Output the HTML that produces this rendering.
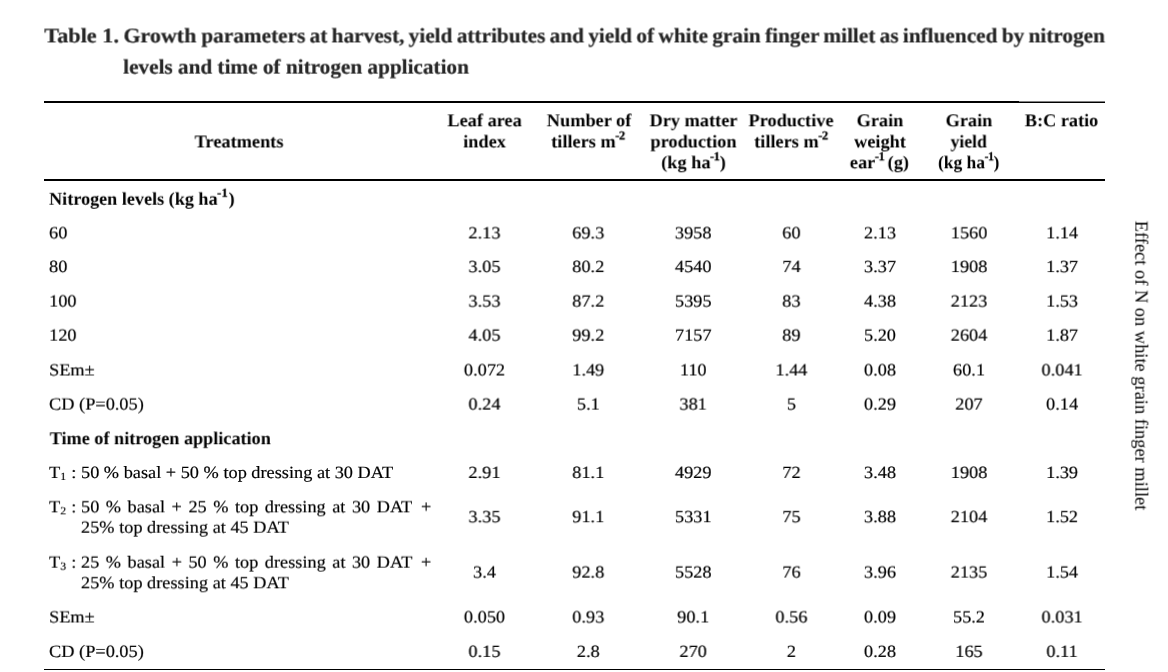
<!DOCTYPE html>
<html lang="en"><head><meta charset="utf-8"><title>Table 1</title>
<style>
html,body{margin:0;padding:0;background:#fff;}
body{width:1168px;height:672px;position:relative;overflow:hidden;font-family:"Liberation Serif","Times New Roman",serif;color:#000;text-rendering:geometricPrecision;}
.t{position:absolute;white-space:nowrap;line-height:1;margin:0;padding:0;font-size:17.2px;transform-origin:0 50%;-webkit-text-stroke:0.18px #000;}
.c{text-align:center;transform-origin:50% 50%;}
.title{font-weight:bold;color:#262626;font-size:20.7px;-webkit-text-stroke:0.2px #262626;}
.h{font-weight:bold;font-size:18.0px;-webkit-text-stroke:0;}
.rule{position:absolute;background:#000;}
sup{font-size:68%;vertical-align:baseline;position:relative;top:-0.69em;line-height:0;margin-left:-0.5px;letter-spacing:-0.4px;-webkit-text-stroke:0.25px currentColor;}
sub{font-size:64%;vertical-align:baseline;position:relative;top:0.2em;line-height:0;margin-right:0.6px;}
.v{transform-origin:0 0;}
h1,section,header,aside,.row,.cell{display:block;position:static;margin:0;padding:0;border:0;font:inherit;height:0;}
</style></head><body>
<h1>
<span class="t title" style="left:44px;top:26px;transform:perspective(1000px) translate3d(0.30px,0.40px,0) scaleX(1.076);">Table 1.</span>
<span class="t title" style="left:123px;top:26px;transform:perspective(1000px) translate3d(0.40px,0.40px,0) scaleX(1.0628);">Growth</span>
<span class="t title" style="left:201px;top:26px;transform:perspective(1000px) translate3d(0.40px,0.40px,0) scaleX(1.0288);word-spacing:-1.0px;">parameters at harvest, yield attributes and yield of white grain finger millet as influenced by nitrogen</span>
<span class="t title" style="left:123px;top:57px;transform:perspective(1000px) translate3d(0.20px,0.60px,0) scaleX(1.026);">levels and time of nitrogen application</span>
</h1>
<section>
<div class="rule" style="left:44px;top:101px;width:975px;height:2px;"></div>
<div class="rule" style="left:1019px;top:102px;width:86px;height:1px;"></div>
<div class="rule" style="left:1019px;top:101px;width:86px;height:1px;opacity:0.5;"></div>
<div class="rule" style="left:44px;top:179px;width:1061px;height:2px;"></div>
<div class="rule" style="left:44px;top:669px;width:1061px;height:1px;"></div>
<header class="row">
<div class="cell">
<div class="t h c" style="left:239px;top:132px;transform:perspective(1000px) translate3d(calc(-50% + 0.00px),0.40px,0) scaleX(1.017);">Treatments</div>
</div>
<div class="cell">
<div class="t h c" style="left:484px;top:111px;transform:perspective(1000px) translate3d(calc(-50% + 0.60px),0.30px,0) scaleX(1.017);">Leaf area</div>
<div class="t h c" style="left:484px;top:132px;transform:perspective(1000px) translate3d(calc(-50% + 0.60px),0.40px,0) scaleX(1.017);">index</div>
</div>
<div class="cell">
<div class="t h c" style="left:589px;top:111px;transform:perspective(1000px) translate3d(calc(-50% + 0.00px),0.30px,0) scaleX(1.017);">Number of</div>
<div class="t h c" style="left:588px;top:132px;transform:perspective(1000px) translate3d(calc(-50% + 0.00px),0.40px,0) scaleX(1.017);">tillers m<sup>-2</sup></div>
</div>
<div class="cell">
<div class="t h c" style="left:693px;top:111px;transform:perspective(1000px) translate3d(calc(-50% + 0.50px),0.30px,0) scaleX(1.017);">Dry matter</div>
<div class="t h c" style="left:693px;top:132px;transform:perspective(1000px) translate3d(calc(-50% + 0.50px),0.40px,0) scaleX(1.017);">production</div>
<div class="t h c" style="left:693px;top:153px;transform:perspective(1000px) translate3d(calc(-50% + 0.50px),0.30px,0) scaleX(1.017);">(kg ha<sup>-1</sup>)</div>
</div>
<div class="cell">
<div class="t h c" style="left:791px;top:111px;transform:perspective(1000px) translate3d(calc(-50% + 0.00px),0.30px,0) scaleX(1.017);">Productive</div>
<div class="t h c" style="left:791px;top:132px;transform:perspective(1000px) translate3d(calc(-50% + 0.00px),0.40px,0) scaleX(1.017);">tillers m<sup>-2</sup></div>
</div>
<div class="cell">
<div class="t h c" style="left:880px;top:111px;transform:perspective(1000px) translate3d(calc(-50% + 0.00px),0.30px,0) scaleX(1.017);">Grain</div>
<div class="t h c" style="left:880px;top:132px;transform:perspective(1000px) translate3d(calc(-50% + 0.00px),0.40px,0) scaleX(1.017);">weight</div>
<div class="t h c" style="left:879px;top:153px;transform:perspective(1000px) translate3d(calc(-50% + 0.40px),0.30px,0) scaleX(1.017);word-spacing:-1.2px;">ear<sup>-1</sup> (g)</div>
</div>
<div class="cell">
<div class="t h c" style="left:969px;top:111px;transform:perspective(1000px) translate3d(calc(-50% + 0.00px),0.30px,0) scaleX(1.017);">Grain</div>
<div class="t h c" style="left:968px;top:132px;transform:perspective(1000px) translate3d(calc(-50% + 0.70px),0.40px,0) scaleX(0.9814);">yield</div>
<div class="t h c" style="left:968px;top:153px;transform:perspective(1000px) translate3d(calc(-50% + 0.70px),0.30px,0) scaleX(0.9672);">(kg ha<sup>-1</sup>)</div>
</div>
<div class="cell">
<div class="t h c" style="left:1061px;top:111px;transform:perspective(1000px) translate3d(calc(-50% + 0.50px),0.30px,0) scaleX(1.0129);">B:C ratio</div>
</div>
</header>
<div class="row">
<div class="cell">
<div class="t h" style="left:49px;top:189px;transform:perspective(1000px) translate3d(0.10px,0.75px,0) scaleX(1.008);">Nitrogen levels (kg ha<sup style="letter-spacing:0.3px;margin-right:0.6px">-1</sup>)</div>
</div>
</div>
<div class="row">
<div class="cell">
<div class="t" style="left:49px;top:224px;transform:perspective(1000px) translate3d(0.10px,0.40px,0) scaleX(1.0643);">60</div>
</div>
<div class="cell"><div class="t  c" style="left:484px;top:224px;transform:perspective(1000px) translate3d(calc(-50% + 0.50px),0.40px,0) scaleX(1.0643);">2.13</div>
</div>
<div class="cell"><div class="t  c" style="left:588px;top:224px;transform:perspective(1000px) translate3d(calc(-50% + 0.30px),0.40px,0) scaleX(1.0643);">69.3</div>
</div>
<div class="cell"><div class="t  c" style="left:693px;top:224px;transform:perspective(1000px) translate3d(calc(-50% + 0.20px),0.40px,0) scaleX(1.0643);">3958</div>
</div>
<div class="cell"><div class="t  c" style="left:791px;top:224px;transform:perspective(1000px) translate3d(calc(-50% + 0.40px),0.40px,0) scaleX(1.0643);">60</div>
</div>
<div class="cell"><div class="t  c" style="left:880px;top:224px;transform:perspective(1000px) translate3d(calc(-50% + 0.00px),0.40px,0) scaleX(1.0643);">2.13</div>
</div>
<div class="cell"><div class="t  c" style="left:969px;top:224px;transform:perspective(1000px) translate3d(calc(-50% + 0.00px),0.40px,0) scaleX(1.0643);">1560</div>
</div>
<div class="cell"><div class="t  c" style="left:1062px;top:224px;transform:perspective(1000px) translate3d(calc(-50% + 0.10px),0.40px,0) scaleX(1.0643);">1.14</div>
</div>
</div>
<div class="row">
<div class="cell">
<div class="t" style="left:49px;top:258px;transform:perspective(1000px) translate3d(0.10px,0.10px,0) scaleX(1.0643);">80</div>
</div>
<div class="cell"><div class="t  c" style="left:484px;top:258px;transform:perspective(1000px) translate3d(calc(-50% + 0.50px),0.10px,0) scaleX(1.0643);">3.05</div>
</div>
<div class="cell"><div class="t  c" style="left:588px;top:258px;transform:perspective(1000px) translate3d(calc(-50% + 0.30px),0.10px,0) scaleX(1.0643);">80.2</div>
</div>
<div class="cell"><div class="t  c" style="left:693px;top:258px;transform:perspective(1000px) translate3d(calc(-50% + 0.20px),0.10px,0) scaleX(1.0643);">4540</div>
</div>
<div class="cell"><div class="t  c" style="left:791px;top:258px;transform:perspective(1000px) translate3d(calc(-50% + 0.40px),0.10px,0) scaleX(1.0643);">74</div>
</div>
<div class="cell"><div class="t  c" style="left:880px;top:258px;transform:perspective(1000px) translate3d(calc(-50% + 0.00px),0.10px,0) scaleX(1.0643);">3.37</div>
</div>
<div class="cell"><div class="t  c" style="left:969px;top:258px;transform:perspective(1000px) translate3d(calc(-50% + 0.00px),0.10px,0) scaleX(1.0643);">1908</div>
</div>
<div class="cell"><div class="t  c" style="left:1062px;top:258px;transform:perspective(1000px) translate3d(calc(-50% + 0.10px),0.10px,0) scaleX(1.0643);">1.37</div>
</div>
</div>
<div class="row">
<div class="cell">
<div class="t" style="left:49px;top:292px;transform:perspective(1000px) translate3d(0.10px,0.60px,0) scaleX(1.0643);">100</div>
</div>
<div class="cell"><div class="t  c" style="left:484px;top:292px;transform:perspective(1000px) translate3d(calc(-50% + 0.50px),0.60px,0) scaleX(1.0643);">3.53</div>
</div>
<div class="cell"><div class="t  c" style="left:588px;top:292px;transform:perspective(1000px) translate3d(calc(-50% + 0.30px),0.60px,0) scaleX(1.0643);">87.2</div>
</div>
<div class="cell"><div class="t  c" style="left:693px;top:292px;transform:perspective(1000px) translate3d(calc(-50% + 0.20px),0.60px,0) scaleX(1.0643);">5395</div>
</div>
<div class="cell"><div class="t  c" style="left:791px;top:292px;transform:perspective(1000px) translate3d(calc(-50% + 0.40px),0.60px,0) scaleX(1.0643);">83</div>
</div>
<div class="cell"><div class="t  c" style="left:880px;top:292px;transform:perspective(1000px) translate3d(calc(-50% + 0.00px),0.60px,0) scaleX(1.0643);">4.38</div>
</div>
<div class="cell"><div class="t  c" style="left:969px;top:292px;transform:perspective(1000px) translate3d(calc(-50% + 0.00px),0.60px,0) scaleX(1.0643);">2123</div>
</div>
<div class="cell"><div class="t  c" style="left:1062px;top:292px;transform:perspective(1000px) translate3d(calc(-50% + 0.10px),0.60px,0) scaleX(1.0643);">1.53</div>
</div>
</div>
<div class="row">
<div class="cell">
<div class="t" style="left:49px;top:326px;transform:perspective(1000px) translate3d(0.10px,0.65px,0) scaleX(1.0643);">120</div>
</div>
<div class="cell"><div class="t  c" style="left:484px;top:326px;transform:perspective(1000px) translate3d(calc(-50% + 0.50px),0.65px,0) scaleX(1.0643);">4.05</div>
</div>
<div class="cell"><div class="t  c" style="left:588px;top:326px;transform:perspective(1000px) translate3d(calc(-50% + 0.30px),0.65px,0) scaleX(1.0643);">99.2</div>
</div>
<div class="cell"><div class="t  c" style="left:693px;top:326px;transform:perspective(1000px) translate3d(calc(-50% + 0.20px),0.65px,0) scaleX(1.0643);">7157</div>
</div>
<div class="cell"><div class="t  c" style="left:791px;top:326px;transform:perspective(1000px) translate3d(calc(-50% + 0.40px),0.65px,0) scaleX(1.0643);">89</div>
</div>
<div class="cell"><div class="t  c" style="left:880px;top:326px;transform:perspective(1000px) translate3d(calc(-50% + 0.00px),0.65px,0) scaleX(1.0643);">5.20</div>
</div>
<div class="cell"><div class="t  c" style="left:969px;top:326px;transform:perspective(1000px) translate3d(calc(-50% + 0.00px),0.65px,0) scaleX(1.0643);">2604</div>
</div>
<div class="cell"><div class="t  c" style="left:1062px;top:326px;transform:perspective(1000px) translate3d(calc(-50% + 0.10px),0.65px,0) scaleX(1.0643);">1.87</div>
</div>
</div>
<div class="row">
<div class="cell">
<div class="t" style="left:49px;top:361px;transform:perspective(1000px) translate3d(0.10px,0.50px,0) scaleX(1.0643);">SEm±</div>
</div>
<div class="cell"><div class="t  c" style="left:484px;top:361px;transform:perspective(1000px) translate3d(calc(-50% + 0.50px),0.50px,0) scaleX(1.0643);">0.072</div>
</div>
<div class="cell"><div class="t  c" style="left:588px;top:361px;transform:perspective(1000px) translate3d(calc(-50% + 0.30px),0.50px,0) scaleX(1.0643);">1.49</div>
</div>
<div class="cell"><div class="t  c" style="left:693px;top:361px;transform:perspective(1000px) translate3d(calc(-50% + 0.20px),0.50px,0) scaleX(1.0643);">110</div>
</div>
<div class="cell"><div class="t  c" style="left:791px;top:361px;transform:perspective(1000px) translate3d(calc(-50% + 0.40px),0.50px,0) scaleX(1.0643);">1.44</div>
</div>
<div class="cell"><div class="t  c" style="left:880px;top:361px;transform:perspective(1000px) translate3d(calc(-50% + 0.00px),0.50px,0) scaleX(1.0643);">0.08</div>
</div>
<div class="cell"><div class="t  c" style="left:969px;top:361px;transform:perspective(1000px) translate3d(calc(-50% + 0.00px),0.50px,0) scaleX(1.0643);">60.1</div>
</div>
<div class="cell"><div class="t  c" style="left:1062px;top:361px;transform:perspective(1000px) translate3d(calc(-50% + 0.10px),0.50px,0) scaleX(1.0643);">0.041</div>
</div>
</div>
<div class="row">
<div class="cell">
<div class="t" style="left:49px;top:395px;transform:perspective(1000px) translate3d(0.10px,0.60px,0) scaleX(1.0643);">CD (P=0.05)</div>
</div>
<div class="cell"><div class="t  c" style="left:484px;top:395px;transform:perspective(1000px) translate3d(calc(-50% + 0.50px),0.60px,0) scaleX(1.0643);">0.24</div>
</div>
<div class="cell"><div class="t  c" style="left:588px;top:395px;transform:perspective(1000px) translate3d(calc(-50% + 0.30px),0.60px,0) scaleX(1.0643);">5.1</div>
</div>
<div class="cell"><div class="t  c" style="left:693px;top:395px;transform:perspective(1000px) translate3d(calc(-50% + 0.20px),0.60px,0) scaleX(1.0643);">381</div>
</div>
<div class="cell"><div class="t  c" style="left:791px;top:395px;transform:perspective(1000px) translate3d(calc(-50% + 0.40px),0.60px,0) scaleX(1.0643);">5</div>
</div>
<div class="cell"><div class="t  c" style="left:880px;top:395px;transform:perspective(1000px) translate3d(calc(-50% + 0.00px),0.60px,0) scaleX(1.0643);">0.29</div>
</div>
<div class="cell"><div class="t  c" style="left:969px;top:395px;transform:perspective(1000px) translate3d(calc(-50% + 0.00px),0.60px,0) scaleX(1.0643);">207</div>
</div>
<div class="cell"><div class="t  c" style="left:1062px;top:395px;transform:perspective(1000px) translate3d(calc(-50% + 0.10px),0.60px,0) scaleX(1.0643);">0.14</div>
</div>
</div>
<div class="row">
<div class="cell">
<div class="t h" style="left:49px;top:429px;transform:perspective(1000px) translate3d(0.70px,0.25px,0) scaleX(1.01);">Time of nitrogen application</div>
</div>
</div>
<div class="row">
<div class="cell">
<div class="t" style="left:49px;top:464px;transform:perspective(1000px) translate3d(0.10px,0.00px,0) scaleX(1.0643);">T<sub>1</sub> :</div>
<div class="t" style="left:81px;top:464px;transform:perspective(1000px) translate3d(0.00px,0.00px,0) scaleX(1.0643);">50 % basal + 50 % top dressing at 30 DAT</div>
</div>
<div class="cell"><div class="t  c" style="left:484px;top:464px;transform:perspective(1000px) translate3d(calc(-50% + 0.50px),0.00px,0) scaleX(1.0643);">2.91</div>
</div>
<div class="cell"><div class="t  c" style="left:588px;top:464px;transform:perspective(1000px) translate3d(calc(-50% + 0.30px),0.00px,0) scaleX(1.0643);">81.1</div>
</div>
<div class="cell"><div class="t  c" style="left:693px;top:464px;transform:perspective(1000px) translate3d(calc(-50% + 0.20px),0.00px,0) scaleX(1.0643);">4929</div>
</div>
<div class="cell"><div class="t  c" style="left:791px;top:464px;transform:perspective(1000px) translate3d(calc(-50% + 0.40px),0.00px,0) scaleX(1.0643);">72</div>
</div>
<div class="cell"><div class="t  c" style="left:880px;top:464px;transform:perspective(1000px) translate3d(calc(-50% + 0.00px),0.00px,0) scaleX(1.0643);">3.48</div>
</div>
<div class="cell"><div class="t  c" style="left:969px;top:464px;transform:perspective(1000px) translate3d(calc(-50% + 0.00px),0.00px,0) scaleX(1.0643);">1908</div>
</div>
<div class="cell"><div class="t  c" style="left:1062px;top:464px;transform:perspective(1000px) translate3d(calc(-50% + 0.10px),0.00px,0) scaleX(1.0643);">1.39</div>
</div>
</div>
<div class="row">
<div class="cell">
<div class="t" style="left:49px;top:498px;transform:perspective(1000px) translate3d(0.10px,0.35px,0) scaleX(1.0643);">T<sub>2</sub> :</div>
<div class="t" style="left:81px;top:498px;transform:perspective(1000px) translate3d(0.00px,0.35px,0) scaleX(1.0643);word-spacing:1.8px;">50 % basal + 25 % top dressing at 30 DAT<span style="margin-left:2px"> +</span></div>
<div class="t" style="left:81px;top:518px;transform:perspective(1000px) translate3d(0.00px,0.75px,0) scaleX(1.0643);">25% top dressing at 45 DAT</div>
</div>
<div class="cell"><div class="t  c" style="left:484px;top:508px;transform:perspective(1000px) translate3d(calc(-50% + 0.50px),0.25px,0) scaleX(1.0643);">3.35</div>
</div>
<div class="cell"><div class="t  c" style="left:588px;top:508px;transform:perspective(1000px) translate3d(calc(-50% + 0.30px),0.25px,0) scaleX(1.0643);">91.1</div>
</div>
<div class="cell"><div class="t  c" style="left:693px;top:508px;transform:perspective(1000px) translate3d(calc(-50% + 0.20px),0.25px,0) scaleX(1.0643);">5331</div>
</div>
<div class="cell"><div class="t  c" style="left:791px;top:508px;transform:perspective(1000px) translate3d(calc(-50% + 0.40px),0.25px,0) scaleX(1.0643);">75</div>
</div>
<div class="cell"><div class="t  c" style="left:880px;top:508px;transform:perspective(1000px) translate3d(calc(-50% + 0.00px),0.25px,0) scaleX(1.0643);">3.88</div>
</div>
<div class="cell"><div class="t  c" style="left:969px;top:508px;transform:perspective(1000px) translate3d(calc(-50% + 0.00px),0.25px,0) scaleX(1.0643);">2104</div>
</div>
<div class="cell"><div class="t  c" style="left:1062px;top:508px;transform:perspective(1000px) translate3d(calc(-50% + 0.10px),0.25px,0) scaleX(1.0643);">1.52</div>
</div>
</div>
<div class="row">
<div class="cell">
<div class="t" style="left:49px;top:553px;transform:perspective(1000px) translate3d(0.10px,0.65px,0) scaleX(1.0643);">T<sub>3</sub> :</div>
<div class="t" style="left:81px;top:553px;transform:perspective(1000px) translate3d(0.00px,0.65px,0) scaleX(1.0643);word-spacing:1.8px;">25 % basal + 50 % top dressing at 30 DAT<span style="margin-left:2px"> +</span></div>
<div class="t" style="left:81px;top:574px;transform:perspective(1000px) translate3d(0.00px,0.30px,0) scaleX(1.0643);">25% top dressing at 45 DAT</div>
</div>
<div class="cell"><div class="t  c" style="left:484px;top:563px;transform:perspective(1000px) translate3d(calc(-50% + 0.50px),0.60px,0) scaleX(1.0643);">3.4</div>
</div>
<div class="cell"><div class="t  c" style="left:588px;top:563px;transform:perspective(1000px) translate3d(calc(-50% + 0.30px),0.60px,0) scaleX(1.0643);">92.8</div>
</div>
<div class="cell"><div class="t  c" style="left:693px;top:563px;transform:perspective(1000px) translate3d(calc(-50% + 0.20px),0.60px,0) scaleX(1.0643);">5528</div>
</div>
<div class="cell"><div class="t  c" style="left:791px;top:563px;transform:perspective(1000px) translate3d(calc(-50% + 0.40px),0.60px,0) scaleX(1.0643);">76</div>
</div>
<div class="cell"><div class="t  c" style="left:880px;top:563px;transform:perspective(1000px) translate3d(calc(-50% + 0.00px),0.60px,0) scaleX(1.0643);">3.96</div>
</div>
<div class="cell"><div class="t  c" style="left:969px;top:563px;transform:perspective(1000px) translate3d(calc(-50% + 0.00px),0.60px,0) scaleX(1.0643);">2135</div>
</div>
<div class="cell"><div class="t  c" style="left:1062px;top:563px;transform:perspective(1000px) translate3d(calc(-50% + 0.10px),0.60px,0) scaleX(1.0643);">1.54</div>
</div>
</div>
<div class="row">
<div class="cell">
<div class="t" style="left:49px;top:608px;transform:perspective(1000px) translate3d(0.10px,0.50px,0) scaleX(1.0643);">SEm±</div>
</div>
<div class="cell"><div class="t  c" style="left:484px;top:608px;transform:perspective(1000px) translate3d(calc(-50% + 0.50px),0.50px,0) scaleX(1.0643);">0.050</div>
</div>
<div class="cell"><div class="t  c" style="left:588px;top:608px;transform:perspective(1000px) translate3d(calc(-50% + 0.30px),0.50px,0) scaleX(1.0643);">0.93</div>
</div>
<div class="cell"><div class="t  c" style="left:693px;top:608px;transform:perspective(1000px) translate3d(calc(-50% + 0.20px),0.50px,0) scaleX(1.0643);">90.1</div>
</div>
<div class="cell"><div class="t  c" style="left:791px;top:608px;transform:perspective(1000px) translate3d(calc(-50% + 0.40px),0.50px,0) scaleX(1.0643);">0.56</div>
</div>
<div class="cell"><div class="t  c" style="left:880px;top:608px;transform:perspective(1000px) translate3d(calc(-50% + 0.00px),0.50px,0) scaleX(1.0643);">0.09</div>
</div>
<div class="cell"><div class="t  c" style="left:969px;top:608px;transform:perspective(1000px) translate3d(calc(-50% + 0.00px),0.50px,0) scaleX(1.0643);">55.2</div>
</div>
<div class="cell"><div class="t  c" style="left:1062px;top:608px;transform:perspective(1000px) translate3d(calc(-50% + 0.10px),0.50px,0) scaleX(1.0643);">0.031</div>
</div>
</div>
<div class="row">
<div class="cell">
<div class="t" style="left:49px;top:642px;transform:perspective(1000px) translate3d(0.10px,0.90px,0) scaleX(1.0643);">CD (P=0.05)</div>
</div>
<div class="cell"><div class="t  c" style="left:484px;top:642px;transform:perspective(1000px) translate3d(calc(-50% + 0.50px),0.90px,0) scaleX(1.0643);">0.15</div>
</div>
<div class="cell"><div class="t  c" style="left:588px;top:642px;transform:perspective(1000px) translate3d(calc(-50% + 0.30px),0.90px,0) scaleX(1.0643);">2.8</div>
</div>
<div class="cell"><div class="t  c" style="left:693px;top:642px;transform:perspective(1000px) translate3d(calc(-50% + 0.20px),0.90px,0) scaleX(1.0643);">270</div>
</div>
<div class="cell"><div class="t  c" style="left:791px;top:642px;transform:perspective(1000px) translate3d(calc(-50% + 0.40px),0.90px,0) scaleX(1.0643);">2</div>
</div>
<div class="cell"><div class="t  c" style="left:880px;top:642px;transform:perspective(1000px) translate3d(calc(-50% + 0.00px),0.90px,0) scaleX(1.0643);">0.28</div>
</div>
<div class="cell"><div class="t  c" style="left:969px;top:642px;transform:perspective(1000px) translate3d(calc(-50% + 0.00px),0.90px,0) scaleX(1.0643);">165</div>
</div>
<div class="cell"><div class="t  c" style="left:1062px;top:642px;transform:perspective(1000px) translate3d(calc(-50% + 0.10px),0.90px,0) scaleX(1.0643);">0.11</div>
</div>
</div>
</section>
<aside>
<div class="t v" style="left:1150px;top:221px;font-size:18.6px;-webkit-text-stroke:0;transform:perspective(1000px) translate3d(-0.6px,-0.3px,0) rotate(90deg) scaleX(0.9902);">Effect of N on white grain finger millet</div>
</aside>
</body></html>
